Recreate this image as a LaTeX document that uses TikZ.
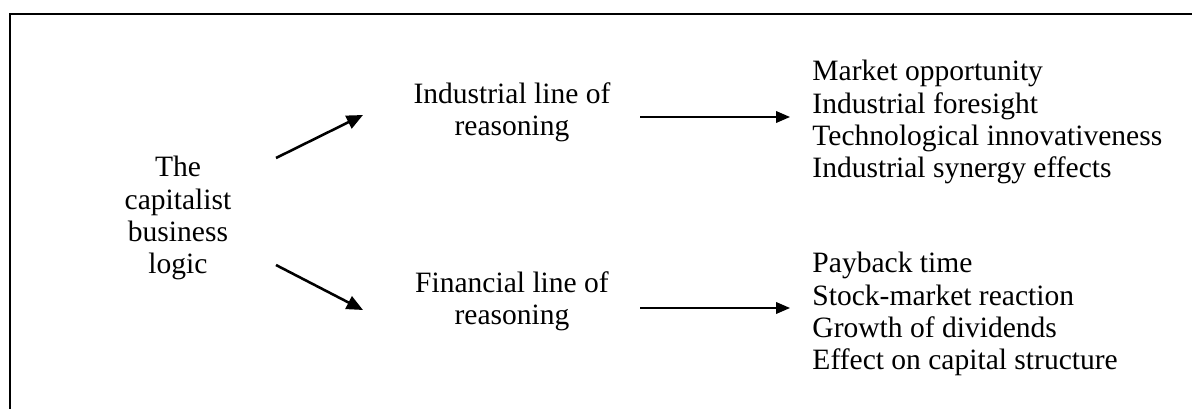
\documentclass[tikz,border=0pt]{standalone}
\usepackage{fontspec}
\setmainfont{Liberation Serif}
\usetikzlibrary{arrows.meta}
\begin{document}
\begin{tikzpicture}[x=0.43pt,y=-0.43pt,
  txt/.style={inner sep=0pt,font=\fontsize{12.7}{13.8}\selectfont,align=center},
  lst/.style={inner sep=0pt,font=\fontsize{12.7}{13.8}\selectfont,align=left,anchor=west},
  bigarr/.style={line width=1.1pt,-{Triangle[length=7pt,width=6pt]}},
  smallarr/.style={line width=0.7pt,-{Triangle[length=6pt,width=5pt]}},
  frame/.style={line width=1.1pt}]
\useasboundingbox (0,0) rectangle (1192,409);
\draw[frame] (10,409) -- (10,14) -- (1192,14);
\node[txt] (logic) at (178,218) {The\\capitalist\\business\\logic};
\node[txt] (ind) at (512,112) {Industrial line of\\reasoning};
\node[txt] (fin) at (512,301) {Financial line of\\reasoning};
\node[lst] (indlist) at (812,122) {Market opportunity\\Industrial foresight\\Technological innovativeness\\Industrial synergy effects};
\node[lst] (finlist) at (812,314) {Payback time\\Stock-market reaction\\Growth of dividends\\Effect on capital structure};
\coordinate (u1) at (276,158);
\coordinate (u2) at (363,115);
\coordinate (d1) at (276,265);
\coordinate (d2) at (363,310);
\coordinate (r1) at (640,117);
\coordinate (r2) at (790,117);
\coordinate (s1) at (640,308);
\coordinate (s2) at (790,308);
\draw[bigarr] (u1) -- (u2);
\draw[bigarr] (d1) -- (d2);
\draw[smallarr] (r1) -- (r2);
\draw[smallarr] (s1) -- (s2);
\end{tikzpicture}
\end{document}
